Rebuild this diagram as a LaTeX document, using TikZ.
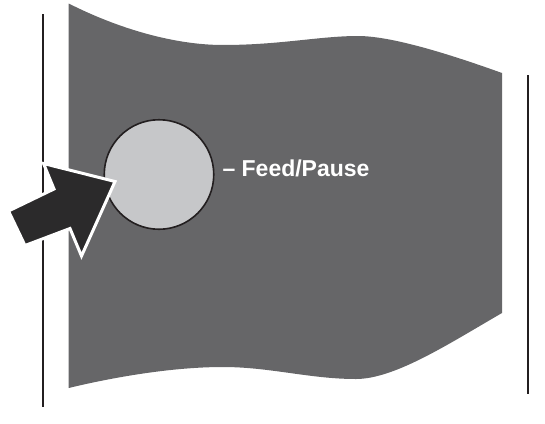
\documentclass[tikz,border=0pt]{standalone}
\usepackage{fontspec}
\setmainfont{Liberation Sans}
\definecolor{flaggrey}{HTML}{666668}
\definecolor{btnfill}{HTML}{C6C7C9}
\definecolor{arrowdark}{HTML}{2B2A2B}
\definecolor{linedark}{HTML}{231F20}
\tikzset{
  edgeline/.style={draw=linedark, line width=2pt},
  flagshape/.style={fill=flaggrey},
  button/.style={circle, draw=linedark, line width=1.6pt, fill=btnfill, minimum size=109.5pt, inner sep=0pt},
  label/.style={text=white, font=\fontsize{23}{27}\selectfont\bfseries, anchor=base west, inner sep=0pt},
  bigarrow/.style={fill=arrowdark, draw=white, line width=3pt, line join=miter, miter limit=20}
}
\begin{document}
\begin{tikzpicture}[x=1pt,y=-1pt]
\useasboundingbox (0,0) rectangle (545,423);
% side lines
\coordinate (ltop) at (43.3,14.3);
\coordinate (lbot) at (43.3,406.7);
\coordinate (rtop) at (527.7,75);
\coordinate (rbot) at (527.7,394);
\draw[edgeline] (ltop) -- (lbot);
\draw[edgeline] (rtop) -- (rbot);
% wavy panel
\fill[flagshape] (68.7,3.5) .. controls (119,29) and (175,45) .. (223,45)
  .. controls (280,45) and (320,36) .. (358,36)
  .. controls (395,36) and (460,58) .. (502,73)
  -- (502,313)
  .. controls (450,343) and (395,379) .. (356,379)
  .. controls (310,379) and (270,367) .. (223,367)
  .. controls (170,367) and (110,378) .. (68.7,388) -- cycle;
% button
\node[button] (btn) at (159,174.5) {};
\node[label] (txt) at (222.3,176) {– Feed/Pause};
% arrow
\draw[bigarrow] (115,181.5) -- (81.5,256) -- (70,228.5) -- (25,245.5)
  -- (8.5,211) -- (54,189) -- (43.5,163.5) -- cycle;
\end{tikzpicture}
\end{document}
